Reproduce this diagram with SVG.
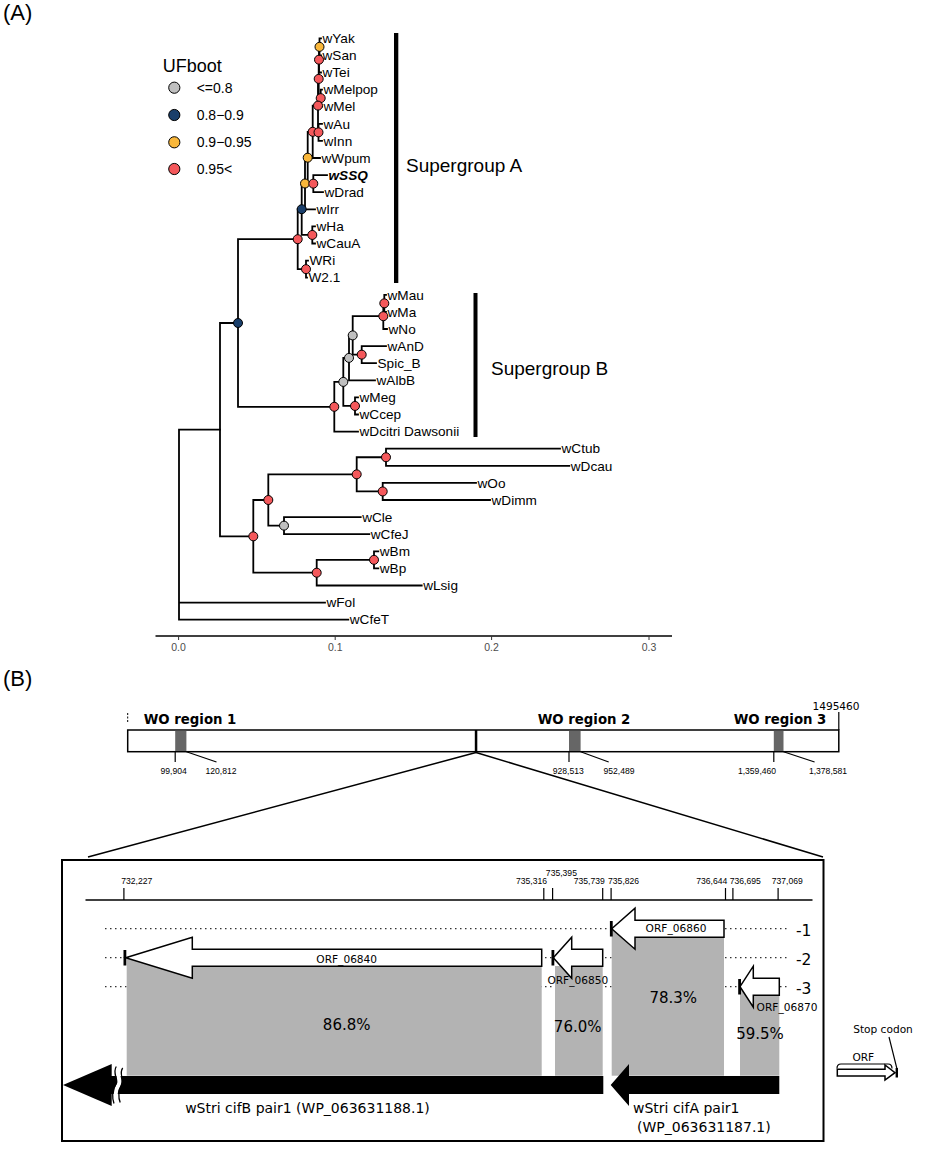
<svg xmlns="http://www.w3.org/2000/svg" width="935" height="1151" viewBox="0 0 935 1151">
<style>
.br{fill:none;stroke:#000;stroke-width:1.8;stroke-linejoin:miter;stroke-linecap:square}
.lf{font-family:"Liberation Sans",Arial,sans-serif;font-size:13.6px;fill:#000}
.nd{stroke:#000;stroke-width:1}
.r{fill:#f4585b}.g{fill:#f9b73a}.n{fill:#1a3f6b}.y{fill:#bfbfbf}
.ax{font-family:"Liberation Sans",Arial,sans-serif;font-size:10.5px;fill:#4d4d4d;text-anchor:middle}
.sg{font-family:"Liberation Sans",Arial,sans-serif;font-size:19px;fill:#000}
.pl{font-family:"Liberation Sans",Arial,sans-serif;font-size:22px;fill:#000}
.lg{font-family:"Liberation Sans",Arial,sans-serif;font-size:14px;fill:#000}
.num{font-family:"Liberation Sans",Arial,sans-serif;font-size:8.6px;fill:#000;text-anchor:middle}
.wo{font-family:"DejaVu Sans",Verdana,sans-serif;font-size:13.3px;font-weight:bold;fill:#000;text-anchor:middle}
.orf{font-family:"DejaVu Sans",Verdana,sans-serif;font-size:10.6px;fill:#000;text-anchor:middle}
.pc{font-family:"DejaVu Sans",Verdana,sans-serif;font-size:15px;fill:#000;text-anchor:middle}
.fr{font-family:"DejaVu Sans",Verdana,sans-serif;font-size:15.5px;fill:#000}
.gn{font-family:"DejaVu Sans",Verdana,sans-serif;font-size:14px;fill:#000}
.dot{stroke:#333;stroke-width:1.2;stroke-dasharray:1.5 3.5;fill:none}
.ar{fill:#fff;stroke:#000;stroke-width:1.5}
.gr{fill:#b3b3b3}
.ln{stroke:#000;stroke-width:1.2;fill:none}
</style>

<text class="pl" x="3" y="20">(A)</text>
<text class="pl" x="3" y="686">(B)</text>

<g id="tree-edges">
<path class="br" d="M321 38.3H319.5V55.4H321"/>
<path class="br" d="M319.5 46.85H319V72.5H321"/>
<path class="br" d="M322 89.6H320.7V106.7H322"/>
<path class="br" d="M319 59.7H318.7V98.15H320.7"/>
<path class="br" d="M322 123.8H318.5V140.9H322"/>
<path class="br" d="M318.7 78.9H318V132.35H318.5"/>
<path class="br" d="M318 105.6H312.7V158H320"/>
<path class="br" d="M327 175.1H313.3V192.2H323"/>
<path class="br" d="M312.7 131.8H307.7V183.65H313.3"/>
<path class="br" d="M307.7 157.7H305V209.3H315"/>
<path class="br" d="M315 226.4H312.3V243.5H315"/>
<path class="br" d="M305 183.5H301.7V234.95H312.3"/>
<path class="br" d="M308 260.6H306V277.7H307"/>
<path class="br" d="M301.7 209.2H297.7V269.15H306"/>
<path class="br" d="M386 294.8H384.3V311.9H386"/>
<path class="br" d="M384.3 303.35H383.3V329H387"/>
<path class="br" d="M386 346.1H361.7V363.2H376"/>
<path class="br" d="M383.3 316.2H352.7V354.65H361.7"/>
<path class="br" d="M352.7 335.4H349V380.3H375"/>
<path class="br" d="M358 397.4H355V414.5H358"/>
<path class="br" d="M349 357.9H343.3V405.95H355"/>
<path class="br" d="M343.3 381.9H334.3V431.6H358"/>
<path class="br" d="M297.7 239.2H238V406.8H334.3"/>
<path class="br" d="M560 448.7H386V465.8H569.3"/>
<path class="br" d="M476 482.9H382.7V500H490"/>
<path class="br" d="M386 457.25H356.7V491.45H382.7"/>
<path class="br" d="M360.7 517.1H284V534.2H369.3"/>
<path class="br" d="M356.7 474.35H268.3V525.65H284"/>
<path class="br" d="M378.3 551.3H374V568.4H378.3"/>
<path class="br" d="M374 559.85H316.7V585.5H421.7"/>
<path class="br" d="M268.3 500H253.3V572.7H316.7"/>
<path class="br" d="M238 323H220V536.35H253.3"/>
<path class="br" d="M220 429.7H179V619.7H348.3M179 602.6H325"/>
</g>

<g id="tree-nodes">
<circle class="nd g" cx="319.5" cy="46.85" r="4.5"/>
<circle class="nd r" cx="319" cy="59.7" r="4.5"/>
<circle class="nd r" cx="318.7" cy="78.9" r="4.5"/>
<circle class="nd r" cx="320.7" cy="98.15" r="4.5"/>
<circle class="nd r" cx="318" cy="105.6" r="4.5"/>
<circle class="nd r" cx="312.7" cy="131.8" r="4.5"/>
<circle class="nd r" cx="318.5" cy="132.35" r="4.5"/>
<circle class="nd g" cx="307.7" cy="157.7" r="4.5"/>
<circle class="nd g" cx="305" cy="183.5" r="4.5"/>
<circle class="nd r" cx="313.3" cy="183.65" r="4.5"/>
<circle class="nd n" cx="301.7" cy="209.2" r="4.5"/>
<circle class="nd r" cx="312.3" cy="234.95" r="4.5"/>
<circle class="nd r" cx="297.7" cy="239.2" r="4.5"/>
<circle class="nd r" cx="306" cy="269.15" r="4.5"/>
<circle class="nd r" cx="384.3" cy="303.35" r="4.5"/>
<circle class="nd r" cx="383.3" cy="316.2" r="4.5"/>
<circle class="nd y" cx="352.7" cy="335.4" r="4.5"/>
<circle class="nd r" cx="361.7" cy="354.65" r="4.5"/>
<circle class="nd y" cx="349" cy="357.9" r="4.5"/>
<circle class="nd y" cx="343.3" cy="381.9" r="4.5"/>
<circle class="nd r" cx="355" cy="405.95" r="4.5"/>
<circle class="nd r" cx="334.3" cy="406.8" r="4.5"/>
<circle class="nd n" cx="238" cy="323" r="4.5"/>
<circle class="nd r" cx="386" cy="457.25" r="4.5"/>
<circle class="nd r" cx="356.7" cy="474.35" r="4.5"/>
<circle class="nd r" cx="382.7" cy="491.45" r="4.5"/>
<circle class="nd r" cx="268.3" cy="500" r="4.5"/>
<circle class="nd y" cx="284" cy="525.65" r="4.5"/>
<circle class="nd r" cx="253.3" cy="536.35" r="4.5"/>
<circle class="nd r" cx="374" cy="559.85" r="4.5"/>
<circle class="nd r" cx="316.7" cy="572.7" r="4.5"/>
</g>

<g id="tree-labels">
<text class="lf" x="322.5" y="43">wYak</text>
<text class="lf" x="322.5" y="60.1">wSan</text>
<text class="lf" x="322.5" y="77.2">wTei</text>
<text class="lf" x="323.5" y="94.3">wMelpop</text>
<text class="lf" x="323.5" y="111.4">wMel</text>
<text class="lf" x="323.5" y="128.5">wAu</text>
<text class="lf" x="323.5" y="145.6">wInn</text>
<text class="lf" x="321.5" y="162.7">wWpum</text>
<text class="lf" x="328.5" y="179.8" font-weight="bold" font-style="italic">wSSQ</text>
<text class="lf" x="324.5" y="196.9">wDrad</text>
<text class="lf" x="316.5" y="214">wIrr</text>
<text class="lf" x="316.5" y="231.1">wHa</text>
<text class="lf" x="316.5" y="248.2">wCauA</text>
<text class="lf" x="309.5" y="265.3">WRi</text>
<text class="lf" x="308.5" y="282.4">W2.1</text>
<text class="lf" x="387.5" y="299.5">wMau</text>
<text class="lf" x="387.5" y="316.6">wMa</text>
<text class="lf" x="388.5" y="333.7">wNo</text>
<text class="lf" x="387.5" y="350.8">wAnD</text>
<text class="lf" x="377.5" y="367.9">Spic_B</text>
<text class="lf" x="376.5" y="385">wAlbB</text>
<text class="lf" x="359.5" y="402.1">wMeg</text>
<text class="lf" x="359.5" y="419.2">wCcep</text>
<text class="lf" x="359.5" y="436.3">wDcitri Dawsonii</text>
<text class="lf" x="561.5" y="453.4">wCtub</text>
<text class="lf" x="570.8" y="470.5">wDcau</text>
<text class="lf" x="477.5" y="487.6">wOo</text>
<text class="lf" x="491.5" y="504.7">wDimm</text>
<text class="lf" x="362.2" y="521.8">wCle</text>
<text class="lf" x="370.8" y="538.9">wCfeJ</text>
<text class="lf" x="379.8" y="556">wBm</text>
<text class="lf" x="379.8" y="573.1">wBp</text>
<text class="lf" x="423.2" y="590.2">wLsig</text>
<text class="lf" x="326.5" y="607.3">wFol</text>
<text class="lf" x="349.8" y="624.4">wCfeT</text>
</g>

<g id="clades">
<rect x="394" y="33" width="4.3" height="250" fill="#000"/>
<text class="sg" x="406" y="171.5">Supergroup A</text>
<rect x="473.5" y="293" width="4" height="144" fill="#000"/>
<text class="sg" x="491" y="375">Supergroup B</text>
</g>

<g id="legend">
<text x="162.7" y="71.5" font-family="Liberation Sans, Arial, sans-serif" font-size="18">UFboot</text>
<circle class="nd y" cx="174.3" cy="87.7" r="5.6"/>
<circle class="nd n" cx="174.3" cy="115" r="5.6"/>
<circle class="nd g" cx="174.3" cy="142.3" r="5.6"/>
<circle class="nd r" cx="174.3" cy="169" r="5.6"/>
<text class="lg" x="196.7" y="92.7">&lt;=0.8</text>
<text class="lg" x="196.7" y="120">0.8−0.9</text>
<text class="lg" x="196.7" y="147.3">0.9−0.95</text>
<text class="lg" x="196.7" y="174">0.95&lt;</text>
</g>

<g id="axis">
<path d="M155.5 636H672" stroke="#000" stroke-width="1.5"/>
<path d="M178.6 636V640M335.2 636V640M491.6 636V640M649 636V640" stroke="#333" stroke-width="1"/>
<text class="ax" x="178.6" y="650.5">0.0</text>
<text class="ax" x="335.2" y="650.5">0.1</text>
<text class="ax" x="491.6" y="650.5">0.2</text>
<text class="ax" x="649" y="650.5">0.3</text>
</g>

<g id="genome">
<path d="M127.7 713V723" stroke="#000" stroke-width="1" stroke-dasharray="2 1.5"/>
<text class="wo" x="190" y="724">WO region 1</text>
<text class="wo" x="584" y="724">WO region 2</text>
<text class="wo" x="780" y="724">WO region 3</text>
<text class="orf" x="836" y="710">1495460</text>
<path d="M838.8 712V730" class="ln"/>
<rect x="127.7" y="730" width="711.1" height="21.7" fill="#fff" stroke="#000" stroke-width="1.5"/>
<rect x="175.2" y="730.8" width="11.2" height="20.2" fill="#666"/>
<rect x="569" y="730.8" width="11.6" height="20.2" fill="#666"/>
<rect x="773.8" y="730.8" width="9.7" height="20.2" fill="#666"/>
<rect x="474.8" y="730" width="2.5" height="21.7" fill="#000"/>
<path class="ln" d="M175.2 751.7V762M186.4 751.7L216.5 762M569 751.7V762M580.6 751.7L608.7 762M773.8 751.7V762M783.5 751.7L814.6 762"/>
<text class="num" x="173.7" y="774">99,904</text>
<text class="num" x="221" y="774">120,812</text>
<text class="num" x="568.3" y="774">928,513</text>
<text class="num" x="619" y="774">952,489</text>
<text class="num" x="757" y="774">1,359,460</text>
<text class="num" x="828" y="774">1,378,581</text>
</g>

<g id="connectors">
<path d="M476 752.5L88 857M476 752.5L823 857" stroke="#000" stroke-width="1.5" fill="none"/>
</g>

<g id="inset">
<rect x="62" y="860" width="761.5" height="281" fill="#fff" stroke="#000" stroke-width="2"/>
<path d="M85.5 900H812.5" stroke="#000" stroke-width="1.5"/>
<path class="ln" d="M123.9 888V900M543.8 888V900M552.6 888V900M602.7 888V900M611.1 888V900M725.5 888V900M732.9 888V900M778.1 888V900"/>
<text class="num" x="136.8" y="884">732,227</text>
<text class="num" x="531.5" y="884">735,316</text>
<text class="num" x="561.4" y="875.5">735,395</text>
<text class="num" x="589.2" y="884">735,739</text>
<text class="num" x="623.6" y="884">735,826</text>
<text class="num" x="711.7" y="884">736,644</text>
<text class="num" x="745.2" y="884">736,695</text>
<text class="num" x="787.3" y="884">737,069</text>

<path class="dot" d="M105 928.7H787M105 957.7H787M105 986.7H787"/>
<text class="fr" x="796" y="935.5">-1</text>
<text class="fr" x="796" y="964.5">-2</text>
<text class="fr" x="796" y="993.5">-3</text>

<rect class="gr" x="126.7" y="957.7" width="415" height="118"/>
<rect class="gr" x="555" y="966" width="47.7" height="109.7"/>
<rect class="gr" x="611.7" y="928.7" width="112.3" height="147"/>
<rect class="gr" x="740" y="986.7" width="39.3" height="89"/>

<g id="orf06840">
<path class="ar" d="M125.7 957.7L192.3 937.2V949.2H541.7V966.2H192.3V978.2Z"/>
<rect x="123.5" y="950" width="2.8" height="15.5" fill="#000"/>
<text class="orf" x="346.7" y="962.8">ORF_06840</text>
</g>
<g id="orf06850">
<path class="ar" d="M553.3 957.7L571.7 937.2V949.2H602.7V966.2H571.7V978.2Z"/>
<rect x="551.5" y="950" width="2.8" height="15.5" fill="#000"/>
<text class="orf" x="577.8" y="983.8">ORF_06850</text>
</g>
<g id="orf06860">
<path class="ar" d="M611.7 928.7L635 908.2V920.2H724V937.2H635V949.2Z"/>
<rect x="609.9" y="921" width="2.8" height="15.5" fill="#000"/>
<text class="orf" x="676" y="932.3">ORF_06860</text>
</g>
<g id="orf06870">
<path class="ar" d="M740 986.7L753.3 966.2V978.2H779.3V995.2H753.3V1007.2Z"/>
<rect x="738.2" y="979" width="2.8" height="15.5" fill="#000"/>
<text class="orf" x="787" y="1010.5">ORF_06870</text>
</g>

<text class="pc" x="346.7" y="1030.3">86.8%</text>
<text class="pc" x="577.7" y="1032">76.0%</text>
<text class="pc" x="673.3" y="1002.6">78.3%</text>
<text class="pc" x="760" y="1038.6">59.5%</text>

<g id="cifB">
<path d="M63 1085L111.7 1064V1106Z" fill="#000"/>
<rect x="111" y="1076" width="492.3" height="18" fill="#000"/>
<path d="M119.5 1068C115 1074 122 1080 118.5 1085S115 1098 117 1103" stroke="#fff" stroke-width="4" fill="none"/>
<path d="M116.3 1066.5C112 1073 119 1080 115.5 1085S112 1098 114 1103.5" stroke="#000" stroke-width="1.3" fill="none"/>
<path d="M122.7 1068C118.2 1074 125.2 1080 121.7 1085S118.2 1098 120.2 1102.5" stroke="#000" stroke-width="1.3" fill="none"/>
<text class="gn" x="307.5" y="1113" text-anchor="middle">wStri cifB pair1 (WP_063631188.1)</text>
</g>
<g id="cifA">
<path d="M610.7 1085L629 1064V1076H779.3V1094H629V1106Z" fill="#000"/>
<text class="gn" x="633" y="1113">wStri cifA pair1</text>
<text class="gn" x="637" y="1132">(WP_063631187.1)</text>
</g>
</g>

<g id="orf-key">
<path d="M837 1068.5Q837 1064 841 1064H888Q892 1064 892 1068.5" class="ln"/>
<text class="orf" x="863.3" y="1060.5">ORF</text>
<path class="ar" stroke-width="1.2" d="M837.3 1069.3H885V1065L895 1072.7L885 1080V1076H837.3Z"/>
<rect x="895.6" y="1068" width="2.4" height="9.5" fill="#000"/>
<path class="ln" d="M897 1069L889 1037"/>
<text class="orf" x="883" y="1033" font-size="10">Stop codon</text>
</g>
</svg>
